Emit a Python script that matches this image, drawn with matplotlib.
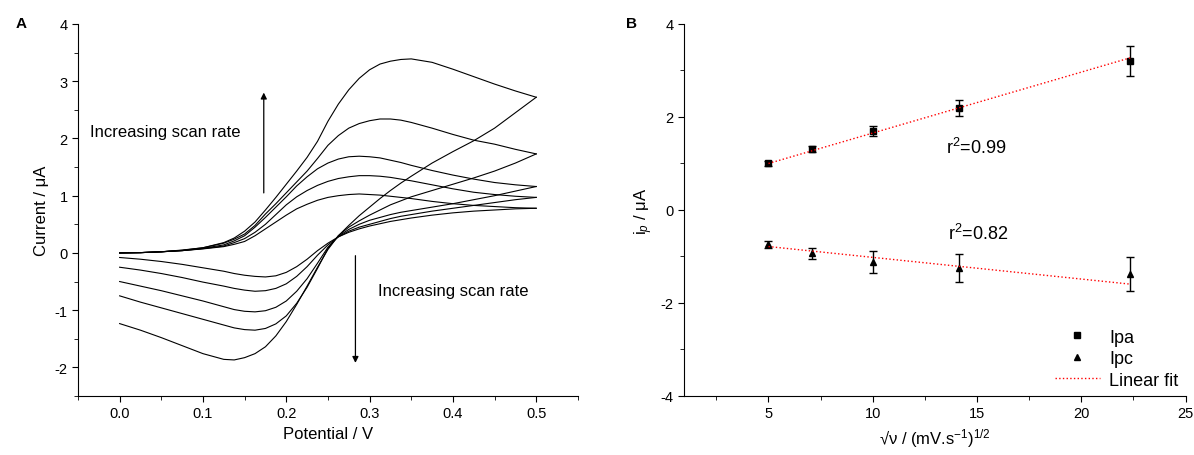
import numpy as np
import matplotlib
matplotlib.use('Agg')
import matplotlib.pyplot as plt
from matplotlib.ticker import MultipleLocator
from matplotlib.lines import Line2D

plt.rcParams['font.family'] = ['Liberation Sans', 'DejaVu Sans']
plt.rcParams['mathtext.fontset'] = 'custom'
plt.rcParams['mathtext.rm'] = 'Liberation Sans'
plt.rcParams['mathtext.it'] = 'Liberation Sans:italic'
plt.rcParams['axes.unicode_minus'] = False

# --- Panel A: cyclic voltammograms ---
potential = [0.0, 0.025, 0.05, 0.075, 0.1, 0.125, 0.1375, 0.15, 0.1625, 0.175,
             0.1875, 0.2, 0.2125, 0.225, 0.2375, 0.25, 0.2625, 0.275, 0.2875, 0.3,
             0.3125, 0.325, 0.3375, 0.35, 0.375, 0.4, 0.425, 0.45, 0.475, 0.5]

# forward (anodic) scans, smallest to largest scan rate
fwd_1 = [0, 0.005, 0.02, 0.04, 0.07, 0.11, 0.15, 0.20, 0.30, 0.42,
         0.54, 0.66, 0.77, 0.85, 0.92, 0.97, 1.00, 1.02, 1.03, 1.02,
         1.01, 0.99, 0.97, 0.95, 0.90, 0.86, 0.83, 0.81, 0.79, 0.78]
fwd_2 = [0, 0.005, 0.02, 0.04, 0.075, 0.12, 0.18, 0.25, 0.36, 0.50,
         0.67, 0.84, 0.98, 1.09, 1.18, 1.25, 1.30, 1.33, 1.35, 1.35,
         1.34, 1.32, 1.29, 1.26, 1.19, 1.12, 1.06, 1.02, 0.99, 0.97]
fwd_3 = [0, 0.005, 0.02, 0.04, 0.08, 0.14, 0.21, 0.30, 0.45, 0.62,
         0.80, 0.98, 1.17, 1.33, 1.47, 1.57, 1.64, 1.68, 1.69, 1.68,
         1.66, 1.62, 1.58, 1.53, 1.44, 1.36, 1.29, 1.23, 1.19, 1.16]
fwd_4 = [0, 0.005, 0.02, 0.045, 0.09, 0.17, 0.24, 0.33, 0.48, 0.68,
         0.86, 1.05, 1.24, 1.43, 1.65, 1.88, 2.05, 2.18, 2.26, 2.31,
         2.34, 2.34, 2.32, 2.28, 2.18, 2.07, 1.97, 1.90, 1.81, 1.73]
fwd_5 = [0, 0.005, 0.02, 0.05, 0.09, 0.18, 0.26, 0.38, 0.54, 0.75,
         0.97, 1.20, 1.43, 1.67, 1.95, 2.30, 2.60, 2.85, 3.05, 3.20,
         3.30, 3.35, 3.38, 3.39, 3.33, 3.21, 3.08, 2.95, 2.83, 2.72]

# reverse (cathodic) scans
rev_1 = [-0.08, -0.11, -0.15, -0.20, -0.26, -0.32, -0.36, -0.39, -0.41, -0.42,
         -0.40, -0.34, -0.24, -0.11, 0.04, 0.17, 0.28, 0.36, 0.42, 0.47,
         0.51, 0.55, 0.58, 0.61, 0.66, 0.70, 0.73, 0.75, 0.77, 0.78]
rev_2 = [-0.25, -0.30, -0.36, -0.43, -0.51, -0.58, -0.62, -0.65, -0.67, -0.66,
         -0.62, -0.54, -0.41, -0.24, -0.04, 0.14, 0.28, 0.38, 0.45, 0.50,
         0.55, 0.60, 0.64, 0.67, 0.73, 0.78, 0.83, 0.88, 0.93, 0.97]
rev_3 = [-0.50, -0.58, -0.66, -0.75, -0.84, -0.94, -0.99, -1.02, -1.03, -1.01,
         -0.95, -0.84, -0.67, -0.45, -0.18, 0.10, 0.29, 0.41, 0.50, 0.57,
         0.62, 0.67, 0.71, 0.74, 0.80, 0.86, 0.93, 1.00, 1.08, 1.16]
rev_4 = [-0.75, -0.86, -0.96, -1.06, -1.16, -1.26, -1.31, -1.34, -1.35, -1.32,
         -1.24, -1.10, -0.88, -0.60, -0.27, 0.08, 0.30, 0.45, 0.56, 0.66,
         0.75, 0.84, 0.91, 0.98, 1.09, 1.20, 1.31, 1.43, 1.57, 1.73]
rev_5 = [-1.235, -1.35, -1.48, -1.62, -1.76, -1.86, -1.87, -1.83, -1.76, -1.64,
         -1.45, -1.20, -0.90, -0.58, -0.25, 0.06, 0.30, 0.48, 0.65, 0.80,
         0.95, 1.09, 1.22, 1.34, 1.57, 1.77, 1.96, 2.18, 2.45, 2.72]

# --- Panel B: peak currents vs sqrt(scan rate) ---
sqrt_rate = [5.0, 7.07, 10.0, 14.14, 22.36]
ipa = [1.0, 1.31, 1.70, 2.20, 3.21]
ipa_err = [0.05, 0.065, 0.10, 0.175, 0.32]
ipc = [-0.74, -0.93, -1.12, -1.25, -1.38]
ipc_err = [0.08, 0.12, 0.23, 0.30, 0.37]
# linear fits as drawn (slope, intercept)
fit_ipa = (0.131, 0.345)
fit_ipc = (-0.0466, -0.553)

fig = plt.figure(figsize=(11.94, 4.56), dpi=100)
axA = fig.add_axes([0.0653, 0.1294, 0.4187, 0.8158])
axB = fig.add_axes([0.5729, 0.1294, 0.4200, 0.8158])

for ax in (axA, axB):
    ax.spines['top'].set_visible(False)
    ax.spines['right'].set_visible(False)
    ax.tick_params(which='both', direction='out', labelsize=10.5)
    ax.tick_params(which='major', length=4)
    ax.tick_params(which='minor', length=3)

curves = [(fwd_1, rev_1), (fwd_2, rev_2), (fwd_3, rev_3), (fwd_4, rev_4), (fwd_5, rev_5)]
for f, r in curves:
    axA.plot(potential, f, color='black', lw=0.8)
    axA.plot(potential, r, color='black', lw=0.8)

axA.set_xlim(-0.05, 0.55)
axA.set_ylim(-2.5, 4)
axA.xaxis.set_minor_locator(MultipleLocator(0.05))
axA.yaxis.set_major_locator(MultipleLocator(1))
axA.yaxis.set_minor_locator(MultipleLocator(0.5))
axA.set_xticks([0.0, 0.1, 0.2, 0.3, 0.4, 0.5])
axA.set_xticklabels(['0.0', '0.1', '0.2', '0.3', '0.4', '0.5'])
axA.set_xlabel('Potential / V', fontsize=12)
axA.set_ylabel('Current / \u03bcA', fontsize=12)

axA.annotate('', xy=(0.173, 2.85), xytext=(0.173, 1.0),
             arrowprops=dict(arrowstyle='-|>', color='black', lw=0.9, mutation_scale=9))
axA.annotate('', xy=(0.283, -1.97), xytext=(0.283, 0.0),
             arrowprops=dict(arrowstyle='-|>', color='black', lw=0.9, mutation_scale=9))
axA.text(-0.036, 2.12, 'Increasing scan rate', fontsize=12, va='center', ha='left')
axA.text(0.31, -0.65, 'Increasing scan rate', fontsize=12, va='center', ha='left')
fig.text(0.0135, 0.948, 'A', fontsize=11, fontweight='bold', va='center')

# panel B
xs = np.array([sqrt_rate[0], sqrt_rate[-1]])
axB.errorbar(sqrt_rate, ipa, yerr=ipa_err, fmt='s', color='black', ms=4,
             capsize=3, elinewidth=1, capthick=1)
axB.errorbar(sqrt_rate, ipc, yerr=ipc_err, fmt='^', color='black', ms=4.5,
             capsize=3, elinewidth=1, capthick=1)
axB.plot(xs, fit_ipa[0] * xs + fit_ipa[1], color='red', ls=':', lw=1, zorder=5)
axB.plot(xs, fit_ipc[0] * xs + fit_ipc[1], color='red', ls=':', lw=1, zorder=5)

axB.text(13.5, 1.35, 'r$^2$=0.99', fontsize=13, va='center')
axB.text(13.6, -0.5, 'r$^2$=0.82', fontsize=13, va='center')

axB.set_xlim(0.95, 25)
axB.set_ylim(-4, 4)
axB.xaxis.set_major_locator(MultipleLocator(5))
axB.xaxis.set_minor_locator(MultipleLocator(2.5))
axB.yaxis.set_major_locator(MultipleLocator(2))
axB.yaxis.set_minor_locator(MultipleLocator(1))
axB.set_xlabel('\u221a\u03bd / (mV.s$^{-1}$)$^{1/2}$', fontsize=12)
axB.set_ylabel('i$_p$ / \u03bcA', fontsize=12)

handles = [Line2D([], [], ls='none', marker='s', color='black', ms=4),
           Line2D([], [], ls='none', marker='^', color='black', ms=4.5),
           Line2D([], [], ls=':', color='red', lw=1)]
axB.legend(handles, ['Ipa', 'Ipc', 'Linear fit'], loc='lower right', frameon=False,
           fontsize=13, handlelength=2.5, handletextpad=0.5, labelspacing=0.25,
           borderaxespad=0.0)
fig.text(0.524, 0.948, 'B', fontsize=11, fontweight='bold', va='center')

fig.savefig('out.png', dpi=100)
